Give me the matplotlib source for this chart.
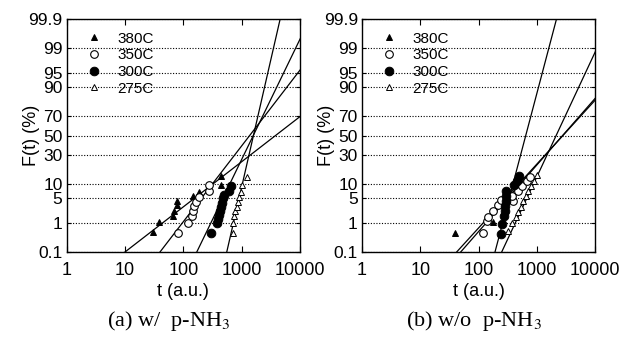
import numpy as np
import matplotlib
matplotlib.use("Agg")
import matplotlib.pyplot as plt
from matplotlib.ticker import FixedLocator, FixedFormatter, NullLocator, LogLocator
from statistics import NormalDist

plt.rcParams['font.family'] = ['Liberation Sans', 'DejaVu Sans']
plt.rcParams['mathtext.fontset'] = 'stix'

# ---------------- data ----------------
series_labels = ['380C', '350C', '300C', '275C']

# panel (a) w/ p-NH3
a_380_t = [30, 39, 67, 70, 77, 77, 145, 188, 447, 447]
a_380_F = [0.52, 1.1, 1.64, 2.2, 3.2, 4.1, 5.4, 6.8, 9.3, 14.0]
a_350_t = [82, 119, 142, 146, 155, 165, 186, 280, 280]
a_350_F = [0.49, 1.03, 1.6, 2.2, 3.0, 3.9, 5.2, 7.1, 9.5]
a_300_t = [294, 373, 397, 413, 425, 442, 454, 472, 497, 613, 648]
a_300_F = [0.47, 1.0, 1.31, 1.75, 2.3, 2.95, 3.7, 4.8, 5.7, 7.2, 8.9]
a_275_t = [701, 701, 738, 768, 821, 855, 910, 961, 1000, 1219]
a_275_F = [0.5, 1.04, 1.6, 2.2, 2.95, 3.96, 5.2, 6.8, 9.5, 13.7]
# fitted lines (median t, slope in probit units per decade)
a_fit_t50 = [3810, 1371, 1581, 1592]
a_fit_slope = [1.197, 2.01, 3.19, 6.75]

# panel (b) w/o p-NH3
b_380_t = [39, 178]
b_380_F = [0.47, 1.1]
b_350_t = [120, 137, 146, 175, 218, 239, 393, 368, 478, 547, 666, 768]
b_350_F = [0.47, 1.14, 1.5, 2.2, 3.3, 4.35, 4.0, 5.3, 6.9, 9.0, 11.2, 13.7]
b_300_t = [242, 248, 272, 283, 283, 289, 294, 294, 408, 449, 492]
b_300_F = [0.45, 0.94, 1.6, 2.3, 3.1, 4.1, 5.4, 7.1, 9.6, 11.2, 14.0]
b_275_t = [322, 377, 432, 478, 532, 583, 641, 710, 789, 899, 988]
b_275_F = [0.55, 1.0, 1.5, 2.1, 2.84, 4.05, 5.3, 6.9, 8.9, 11.2, 14.9]
b_fit_t50 = [2754, 2786, 642, 2132]
b_fit_slope = [1.768, 1.696, 5.86, 3.31]

y_ticks = [0.1, 1, 5, 10, 30, 50, 70, 90, 95, 99, 99.9]
y_labels = ['0.1', '1', '5', '10', '30', '50', '70', '90', '95', '99', '99.9']
x_ticks = [1, 10, 100, 1000, 10000]
x_labels = ['1', '10', '100', '1000', '10000']
captions = ['(a) w/  p-NH$_3$', '(b) w/o  p-NH$_3$']

# ---------------- probability scale ----------------
_nd = NormalDist()
_ppf = np.vectorize(lambda p: _nd.inv_cdf(p), otypes=[float])
_cdf = np.vectorize(lambda z: _nd.cdf(z), otypes=[float])

def fwd(F):
    F = np.clip(np.asarray(F, dtype=float), 1e-9, 100 - 1e-9)
    return _ppf(F / 100.0)

def inv(z):
    return 100.0 * _cdf(np.asarray(z, dtype=float))

styles = [
    dict(marker='^', mfc='black', mec='black', ms=5.0, mew=0.7),
    dict(marker='o', mfc='white', mec='black', ms=5.5, mew=0.8),
    dict(marker='o', mfc='black', mec='black', ms=6.2, mew=0.7),
    dict(marker='^', mfc='white', mec='black', ms=4.6, mew=0.7),
]

fig = plt.figure(figsize=(6.37, 3.37), dpi=100)
W, H = 637, 337
AXW, AXH = 233.3, 233.0
panels = [
    (66.7, [(a_380_t, a_380_F), (a_350_t, a_350_F), (a_300_t, a_300_F), (a_275_t, a_275_F)],
     a_fit_t50, a_fit_slope),
    (362.0, [(b_380_t, b_380_F), (b_350_t, b_350_F), (b_300_t, b_300_F), (b_275_t, b_275_F)],
     b_fit_t50, b_fit_slope),
]
zlim = _nd.inv_cdf(0.001)
for k, (left_px, data, t50s, slopes) in enumerate(panels):
    ax = fig.add_axes([left_px / W, (H - 252) / H, AXW / W, AXH / H])
    ax.set_xscale('log')
    ax.set_yscale('function', functions=(fwd, inv))
    ax.set_xlim(1, 10000)
    ax.set_ylim(0.1, 99.9)

    # fitted lines
    for t50, s in zip(t50s, slopes):
        zz = np.array([zlim, -zlim])
        tt = t50 * 10 ** (zz / s)
        ax.plot(tt, [0.1, 99.9], color='black', lw=0.9, zorder=3)

    handles = []
    for (t, F), st, lab in zip(data, styles, series_labels):
        h, = ax.plot(t, F, linestyle='none', label=lab, zorder=4, **st)
        handles.append(h)

    ax.yaxis.set_major_locator(FixedLocator(y_ticks))
    ax.yaxis.set_major_formatter(FixedFormatter(y_labels))
    ax.yaxis.set_minor_locator(NullLocator())
    ax.xaxis.set_major_locator(FixedLocator(x_ticks))
    ax.xaxis.set_major_formatter(FixedFormatter(x_labels))
    ax.xaxis.set_minor_locator(LogLocator(base=10, subs=np.arange(2, 10)))
    ax.tick_params(axis='x', which='major', direction='in', top=True, length=4.5, width=0.8,
                   labelsize=13, pad=7)
    ax.tick_params(axis='x', which='minor', direction='in', top=True, length=2.5, width=0.6)
    ax.tick_params(axis='y', which='major', direction='in', right=True, length=3, width=0.8,
                   labelsize=12.5, pad=3)
    ax.grid(axis='y', which='major', color='black', linestyle=(0, (1, 1.5)), lw=0.8)
    for sp in ax.spines.values():
        sp.set_linewidth(1.0)

    ax.set_xlabel('t (a.u.)', fontsize=13)
    ax.xaxis.set_label_coords(0.5, -(283 - 252) / AXH)
    ax.set_ylabel('F(t) (%)', fontsize=13)
    ax.yaxis.set_label_coords(-27 / AXW, 0.5)

    leg = ax.legend(handles=handles, loc='upper left', bbox_to_anchor=(0.085, 0.945),
                    frameon=False, fontsize=11, borderaxespad=0, borderpad=0,
                    handlelength=1.0, handletextpad=1.0, labelspacing=0.17, numpoints=1)

    cx = (169 if k == 0 else 474) / W
    fig.text(cx, (H - 321) / H, captions[k], ha='center', va='center',
             fontsize=16, family=['Liberation Serif', 'DejaVu Serif'])

fig.savefig('out.png', dpi=100)
